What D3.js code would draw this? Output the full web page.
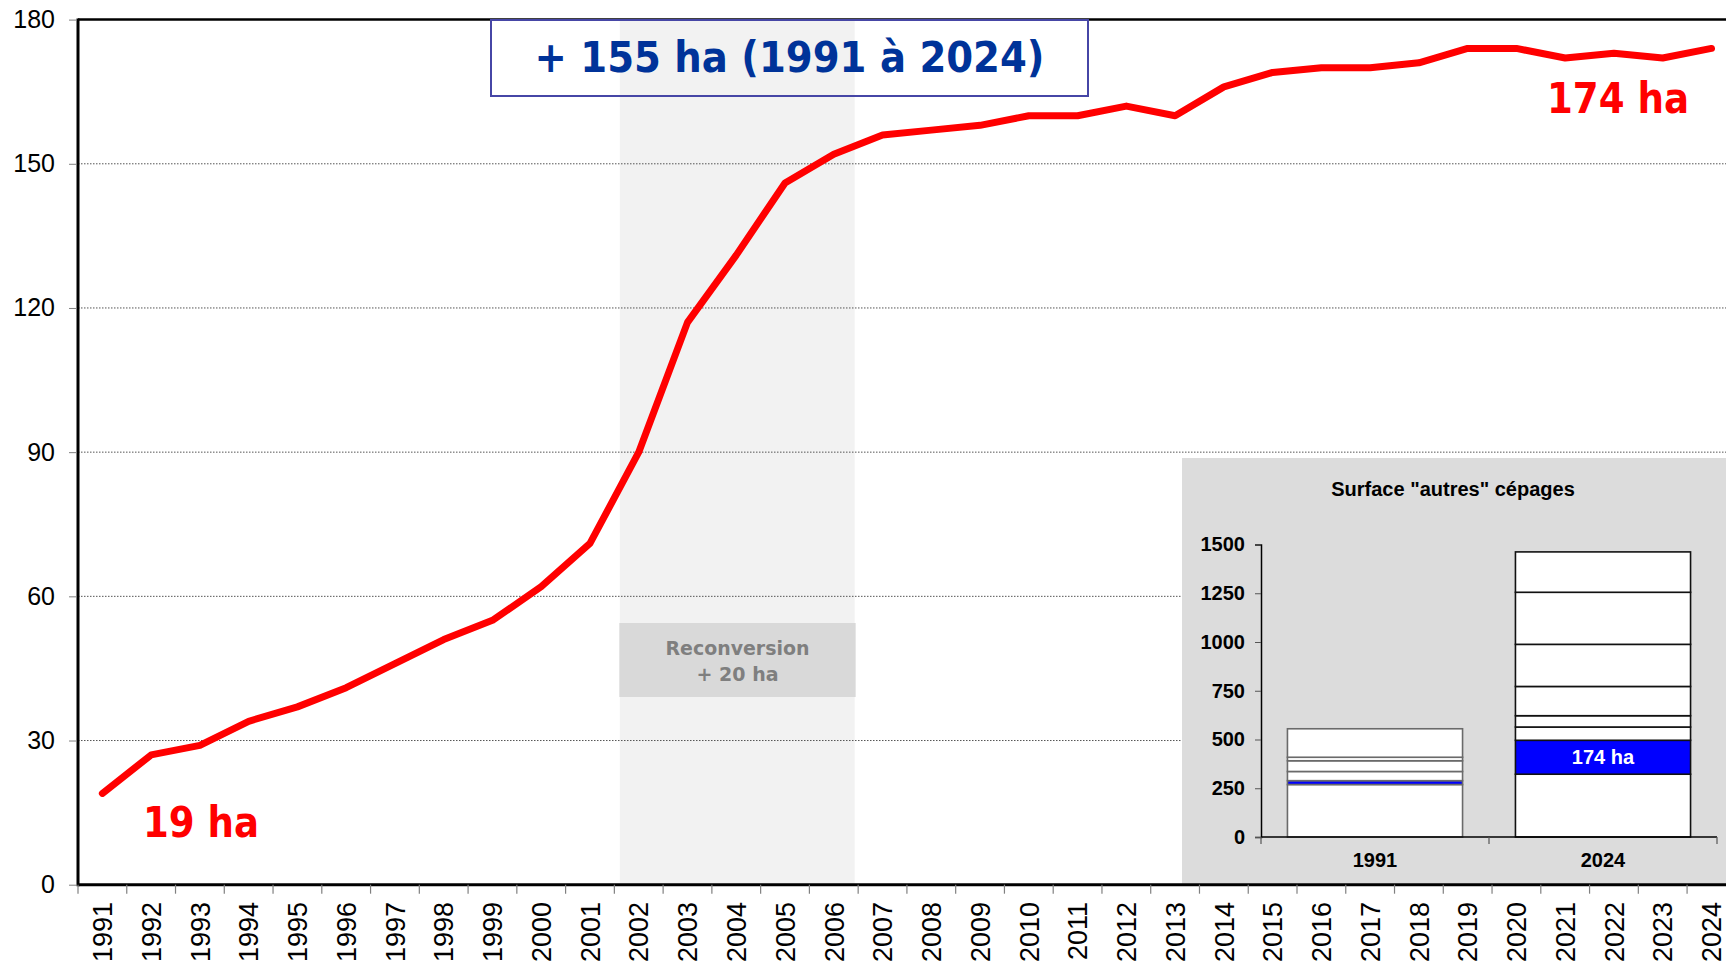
<!DOCTYPE html>
<html><head><meta charset="utf-8">
<script src="https://cdn.jsdelivr.net/npm/d3@7"></script>
<style>html,body{margin:0;padding:0;background:#fff;overflow:hidden}</style>
</head><body>
<svg id="c" width="1726" height="962"></svg>
<script>
// ---- data ----
const years = ["1991","1992","1993","1994","1995","1996","1997","1998","1999","2000","2001","2002","2003","2004","2005","2006","2007","2008","2009","2010","2011","2012","2013","2014","2015","2016","2017","2018","2019","2020","2021","2022","2023","2024"];
const areaHa = [19,27,29,34,37,41,46,51,55,62,71,90,117,131,146,152,156,157,158,160,160,162,160,166,169,170,170,171,174,174,172,173,172,174];
const yTicks = [0,30,60,90,120,150,180];
const reconversionYears = ["2002","2006"];
const reconversionLines = ["Reconversion","+ 20 ha"];
const titleText = "+ 155 ha (1991 à 2024)";
const startLabel = "19 ha";
const endLabel = "174 ha";

const insetTitle = "Surface \"autres\" cépages";
const insetCategories = ["1991","2024"];
const inset1991 = [269,20,47,55,18,146];
const inset2024 = [322,174,68,58,150,216,267,207];
const insetTicks = [0,250,500,750,1000,1250,1500];
const highlightIndex = 1;

// ---- layout ----
const W = 1726, H = 962;
const L = 78, T = 19.6, B = 884.7, STEP = 48.76;
const svg = d3.select("#c");
const x = d3.scaleBand().domain(years).range([L, L + STEP * years.length]).padding(0);
const y = d3.scaleLinear().domain([0, 180]).range([B, T]);
const cx = d => x(d) + x.bandwidth() / 2;

// shaded reconversion band
svg.append("rect")
  .attr("x", x(reconversionYears[0]) + 5.5)
  .attr("y", T)
  .attr("width", x(reconversionYears[1]) + x.bandwidth() - 3.5 - (x(reconversionYears[0]) + 5.5))
  .attr("height", B - T)
  .attr("fill", "#f2f2f2");

// gridlines
svg.append("g").selectAll("line").data(yTicks.filter(v => v > 0 && v < 180)).join("line")
  .attr("x1", L).attr("x2", W).attr("y1", d => y(d)).attr("y2", d => y(d))
  .attr("stroke", "#555").attr("stroke-width", 1).attr("stroke-dasharray", "1.5,1.5");

// inset panel background
const PX = 1182, PY = 458;
svg.append("rect").attr("x", PX).attr("y", PY).attr("width", W - PX).attr("height", B - 1 - PY).attr("fill", "#dcdcdc");

// reconversion box
const rbX0 = x(reconversionYears[0]) + 5, rbX1 = x(reconversionYears[1]) + x.bandwidth() - 2.5;
svg.append("rect").attr("x", rbX0).attr("y", 623).attr("width", rbX1 - rbX0).attr("height", 74).attr("fill", "#d9d9d9");
const rbC = (rbX0 + rbX1) / 2;
svg.append("text").attr("x", rbC).attr("y", 655).attr("text-anchor", "middle")
  .attr("font-family", "DejaVu Sans").attr("font-weight", "bold").attr("font-size", 20)
  .attr("fill", "#7f7f7f").attr("textLength", 144).attr("lengthAdjust", "spacingAndGlyphs").text(reconversionLines[0]);
svg.append("text").attr("x", rbC).attr("y", 681).attr("text-anchor", "middle")
  .attr("font-family", "DejaVu Sans").attr("font-weight", "bold").attr("font-size", 20)
  .attr("fill", "#7f7f7f").attr("textLength", 82).attr("lengthAdjust", "spacingAndGlyphs").text(reconversionLines[1]);

// red line
const line = d3.line().x((d, i) => cx(years[i])).y(d => y(d));
svg.append("path").datum(areaHa).attr("d", line).attr("fill", "none")
  .attr("stroke", "#ff0000").attr("stroke-width", 7).attr("stroke-linejoin", "round").attr("stroke-linecap", "round");

// axes frame
svg.append("line").attr("x1", L).attr("x2", W).attr("y1", T).attr("y2", T).attr("stroke", "#000").attr("stroke-width", 2.5);
svg.append("line").attr("x1", L).attr("x2", W).attr("y1", B).attr("y2", B).attr("stroke", "#000").attr("stroke-width", 3);
svg.append("line").attr("x1", L).attr("x2", L).attr("y1", T - 1.2).attr("y2", B + 1.5).attr("stroke", "#000").attr("stroke-width", 3);

// y axis ticks/labels
const ya = svg.append("g").attr("transform", `translate(${L - 1},0)`)
  .call(d3.axisLeft(y).tickValues(yTicks).tickSize(8).tickPadding(14));
ya.select(".domain").remove();
ya.selectAll(".tick line").attr("stroke", "#808080");
ya.selectAll(".tick text").attr("font-family", "Liberation Sans, Arial").attr("font-size", 25).attr("fill", "#000");

// x ticks at boundaries
svg.append("g").selectAll("line").data(years).join("line")
  .attr("x1", d => x(d)).attr("x2", d => x(d)).attr("y1", B).attr("y2", B + 9)
  .attr("stroke", "#808080").attr("stroke-width", 1.2);
svg.append("g").selectAll("text").data(years).join("text")
  .attr("transform", d => `translate(${cx(d)},902) rotate(-90)`)
  .attr("text-anchor", "end").attr("dy", "0.36em")
  .attr("font-family", "Liberation Sans, Arial").attr("font-size", 27).attr("fill", "#000")
  .text(d => d);

// title box
svg.append("rect").attr("x", 491).attr("y", 20).attr("width", 597).attr("height", 76)
  .attr("fill", "none").attr("stroke", "#4646a6").attr("stroke-width", 2);
svg.append("text").attr("x", 789.5).attr("y", 72).attr("text-anchor", "middle")
  .attr("font-family", "DejaVu Sans").attr("font-weight", "bold").attr("font-size", 43)
  .attr("fill", "#003399").attr("textLength", 510).attr("lengthAdjust", "spacingAndGlyphs").text(titleText);

// red labels
svg.append("text").attr("x", 143).attr("y", 837).attr("font-family", "DejaVu Sans").attr("font-weight", "bold")
  .attr("font-size", 42).attr("fill", "#ff0000").attr("textLength", 116).attr("lengthAdjust", "spacingAndGlyphs").text(startLabel);
svg.append("text").attr("x", 1547).attr("y", 113).attr("font-family", "DejaVu Sans").attr("font-weight", "bold")
  .attr("font-size", 42).attr("fill", "#ff0000").attr("textLength", 142).attr("lengthAdjust", "spacingAndGlyphs").text(endLabel);

// ---- inset ----
const yi = d3.scaleLinear().domain([0, 1500]).range([837, 544.5]);
const xi = d3.scaleBand().domain(insetCategories).range([1261, 1717]).paddingInner(0.232).paddingOuter(0.116);
svg.append("text").attr("x", 1453).attr("y", 496).attr("text-anchor", "middle")
  .attr("font-family", "Liberation Sans, Arial").attr("font-weight", "bold").attr("font-size", 20)
  .attr("fill", "#000").text(insetTitle);

const insetData = [inset1991, inset2024];
const barStroke = ["#6a6a6a", "#111"];
insetCategories.forEach((cat, ci) => {
  const vals = insetData[ci];
  const ends = d3.cumsum(vals);
  const g = svg.append("g");
  g.selectAll("rect").data(vals).join("rect")
    .attr("x", xi(cat)).attr("width", xi.bandwidth())
    .attr("y", (d, i) => yi(ends[i]))
    .attr("height", (d, i) => yi(ends[i] - d) - yi(ends[i]))
    .attr("fill", (d, i) => i === highlightIndex ? "#0000ff" : "#ffffff")
    .attr("stroke", barStroke[ci]).attr("stroke-width", 1.6);
  if (ci === 1) {
    const v = vals[highlightIndex];
    const mid = ends[highlightIndex] - v / 2;
    svg.append("text").attr("x", xi(cat) + xi.bandwidth() / 2).attr("y", yi(mid)).attr("dy", "0.36em")
      .attr("text-anchor", "middle").attr("font-family", "Liberation Sans, Arial").attr("font-weight", "bold")
      .attr("font-size", 20).attr("fill", "#fff").text(`${v} ha`);
  }
});

const yia = svg.append("g").attr("transform", "translate(1261,0)")
  .call(d3.axisLeft(yi).tickValues(insetTicks).tickFormat(d3.format("d")).tickSize(6).tickPadding(10));
yia.select(".domain").attr("stroke", "#000").attr("stroke-width", 1.5);
yia.selectAll(".tick line").attr("stroke", "#555");
yia.selectAll(".tick text").attr("font-family", "Liberation Sans, Arial").attr("font-weight", "bold").attr("font-size", 20).attr("fill", "#000");

svg.append("line").attr("x1", 1261).attr("x2", 1717).attr("y1", yi(0)).attr("y2", yi(0)).attr("stroke", "#000").attr("stroke-width", 1.5);
const bounds = [xi.range()[0], xi.range()[0] + xi.step(), xi.range()[1]];
svg.append("g").selectAll("line").data(bounds).join("line")
  .attr("x1", d => d).attr("x2", d => d).attr("y1", yi(0)).attr("y2", yi(0) + 7)
  .attr("stroke", "#555").attr("stroke-width", 1.2);
svg.append("g").selectAll("text").data(insetCategories).join("text")
  .attr("x", d => xi(d) + xi.bandwidth() / 2).attr("y", 867).attr("text-anchor", "middle")
  .attr("font-family", "Liberation Sans, Arial").attr("font-weight", "bold").attr("font-size", 20).attr("fill", "#000")
  .text(d => d);
</script>
</body></html>
